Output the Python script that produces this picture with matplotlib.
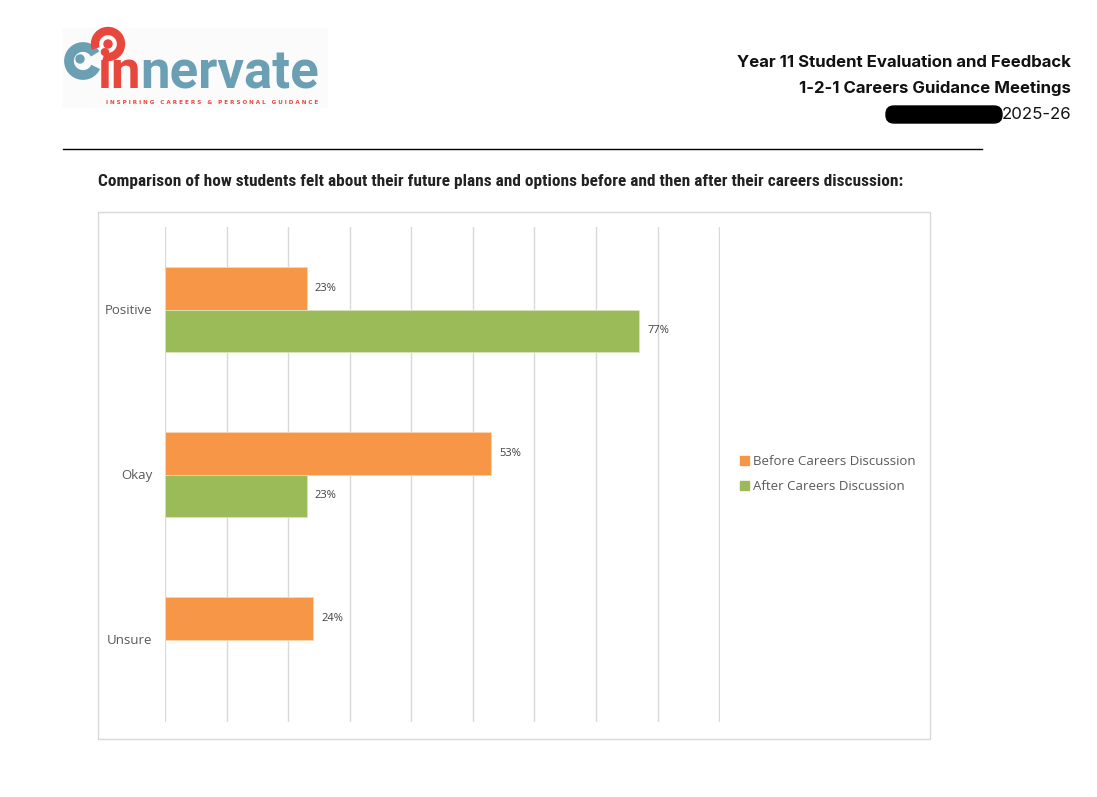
import numpy as np
import matplotlib
matplotlib.use('Agg')
import matplotlib.pyplot as plt
from matplotlib.patches import Rectangle, Patch, FancyBboxPatch, Arc, Circle

# data
categories = ['Positive', 'Okay', 'Unsure']
before = [0.23, 0.53, 0.24]
after = [0.77, 0.23, 0.0]
series_names = ['Before Careers Discussion', 'After Careers Discussion']
colors = ['#f79646', '#9bbb59']

W, H = 1097, 797
fig = plt.figure(figsize=(W / 100, H / 100), dpi=100)
rend = fig.canvas.get_renderer()

# page layer in pixel coords
bg = fig.add_axes([0, 0, 1, 1])
bg.set_xlim(0, W)
bg.set_ylim(H, 0)
bg.axis('off')

# logo
red = '#e8473e'
blue = '#6b9fb4'
bg.add_patch(Rectangle((63, 28), 264, 79, color='#fbfbfb', zorder=0))
bg.add_patch(Arc((83, 61), 28, 28, theta1=25, theta2=330, lw=7, color=blue))
bg.add_patch(Circle((80, 59), 4, color=blue))
bg.add_patch(Arc((108, 44), 26, 26, theta1=-200, theta2=110, lw=6, color=red))
bg.add_patch(Circle((108, 44), 4, color=red))
t_in = bg.text(97, 88, 'in', color=red, fontsize=38, fontweight='bold', family='Roboto',
               va='baseline', ha='left')
w_in = t_in.get_window_extent(renderer=rend).width
bg.text(97 + w_in, 88, 'nervate', color=blue, fontsize=38, fontweight='bold', family='Roboto',
        va='baseline', ha='left')
bg.text(212, 100, 'I N S P I R I N G   C A R E E R S   &   P E R S O N A L   G U I D A N C E',
        color=red, fontsize=4.1, fontweight='bold', ha='center', va='top')

# header text
hfont = 'Inter'
bg.text(1071, 62, 'Year 11 Student Evaluation and Feedback', ha='right', va='center',
        fontsize=12.1, fontweight='bold', family=hfont, color='#111111')
bg.text(1071, 88, '1-2-1 Careers Guidance Meetings', ha='right', va='center',
        fontsize=12.1, fontweight='bold', family=hfont, color='#111111')
bg.text(1071, 114, '2025-26', ha='right', va='center',
        fontsize=12.1, family=hfont, color='#111111')
bg.add_patch(FancyBboxPatch((886, 106), 116, 17, boxstyle='round,pad=0,rounding_size=8',
                            color='black'))
bg.plot([63, 982], [149, 149], color='black', lw=1)

sub = bg.text(98, 181, 'Comparison of how students felt about their future plans and options '
              'before and then after their careers discussion:', ha='left', va='center',
              fontsize=10.5, fontweight='bold',
              family=['Liberation Sans Narrow', 'DejaVu Sans Condensed', 'Roboto Condensed', 'Roboto'],
              color='#222222')
sw = sub.get_window_extent(renderer=rend).width
sub.set_fontsize(10.5 * 800 / sw)

# chart frame
bg.add_patch(Rectangle((97.5, 211.5), 832, 527, fill=False, ec='#d9d9d9', lw=1))

# chart
ax = fig.add_axes([165 / W, 1 - 722 / H, 555 / W, 495 / H])
y = np.arange(len(categories))
h = 0.26
b1 = ax.barh(y - h / 2, before, height=h, color=colors[0], ec='#fbd5b5', lw=0.6, zorder=3)
b2 = ax.barh(y + h / 2, after, height=h, color=colors[1], ec='#d7e4bd', lw=0.6, zorder=3)
for bars in (b1, b2):
    for r in bars:
        v = r.get_width()
        if v > 0:
            ax.annotate(f'{v:.0%}', (v, r.get_y() + r.get_height() / 2), xytext=(6, 0),
                        textcoords='offset points', va='center', ha='left',
                        fontsize=8, color='#404040', family='Open Sans')

ax.set_xlim(0, 0.9015)
ax.set_ylim(2.5, -0.5)
ax.set_xticks(np.arange(0, 0.91, 0.1))
ax.xaxis.grid(True, color='#d9d9d9', lw=1)
ax.set_axisbelow(True)
ax.tick_params(axis='x', length=0, labelbottom=False)
ax.tick_params(axis='y', length=0, pad=9)
ax.set_yticks(y)
ax.set_yticklabels(categories, fontsize=9.5, color='#595959', family='Open Sans')
for s in ax.spines.values():
    s.set_visible(False)
ax.patch.set_alpha(0)

handles = [Patch(color=c) for c in colors]
fig.legend(handles, series_names, loc='center left', bbox_to_anchor=(728 / W, 1 - 474 / H),
           frameon=False, handlelength=0.7, handleheight=0.7, handletextpad=0.3,
           labelspacing=0.9, prop={'family': 'Open Sans', 'size': 9.5}, labelcolor='#595959')

fig.savefig('out.png', dpi=100)
